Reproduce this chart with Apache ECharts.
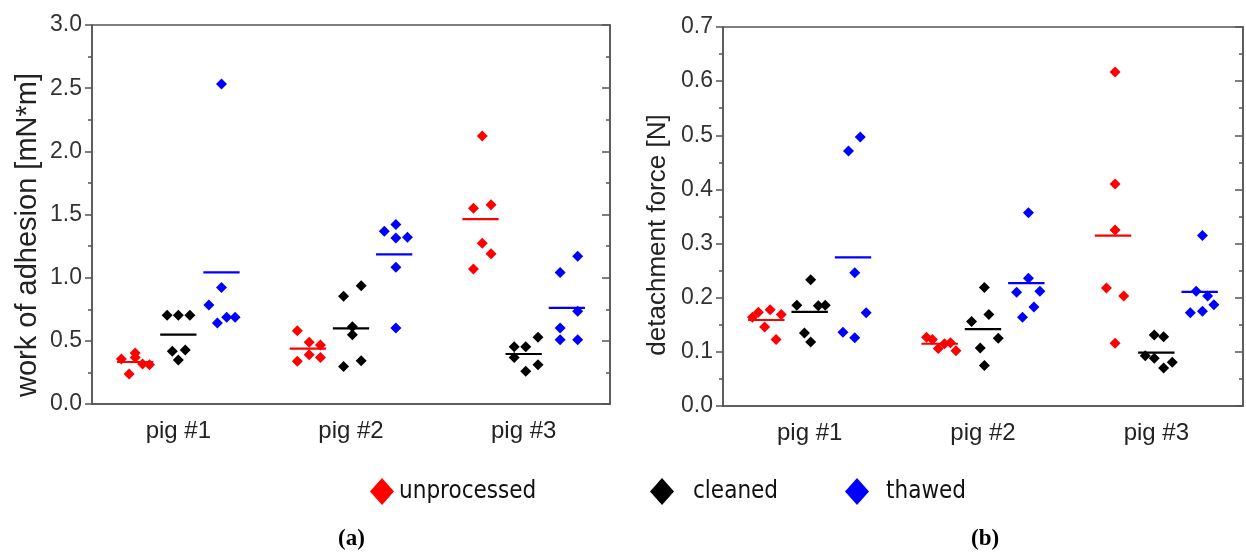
<!DOCTYPE html>
<html><head><meta charset="utf-8">
<script src="https://cdn.jsdelivr.net/npm/echarts@6/dist/echarts.min.js"></script>
<style>html,body{margin:0;padding:0;background:#fff}#c{width:1246px;height:553px}</style>
</head><body><div id="c"></div>
<script>
// ---------------- data ----------------
const categories = ['pig #1', 'pig #2', 'pig #3'];
const seriesNames = ['unprocessed', 'cleaned', 'thawed'];
const yTicksA = [0, 0.5, 1.0, 1.5, 2.0, 2.5, 3.0];
const yTicksB = [0, 0.1, 0.2, 0.3, 0.4, 0.5, 0.6, 0.7];
const yTitles = ['work of adhesion [mN*m]', 'detachment force [N]'];
const panelLabels = ['(a)', '(b)'];

// (a) work of adhesion [mN*m] – six samples per pig
const adhUnprocessed = [[0.356, 0.404, 0.369, 0.317, 0.311, 0.237], [0.580, 0.488, 0.467, 0.390, 0.369, 0.338], [2.121, 1.549, 1.578, 1.272, 1.190, 1.069]];
const adhCleaned     = [[0.702, 0.702, 0.702, 0.417, 0.427, 0.348], [0.852, 0.937, 0.612, 0.549, 0.296, 0.343], [0.454, 0.454, 0.528, 0.369, 0.311, 0.259]];
const adhThawed      = [[2.533, 0.923, 0.784, 0.641, 0.686, 0.686], [1.367, 1.420, 1.314, 1.319, 1.082, 0.602], [1.169, 1.040, 0.734, 0.602, 0.509, 0.509]];
// horizontal scatter of each sample inside its column (category units)
const adhUnprocessedDx = [[-0.08, 0, 0, 0.043, 0.083, -0.035], [-0.061, 0.008, 0.073, 0.008, 0.073, -0.061], [0.01, -0.041, 0.061, 0.01, 0.061, -0.041]];
const adhCleanedDx     = [[-0.065, 0, 0.067, -0.035, 0.04, 0], [-0.043, 0.059, 0.008, 0.008, -0.043, 0.059], [-0.055, 0.012, 0.083, -0.055, 0.083, 0.012]];
const adhThawedDx      = [[0, 0, -0.073, -0.024, 0.03, 0.079], [-0.057, 0.01, 0.01, 0.077, 0.01, 0.01], [0.063, -0.039, 0.063, -0.039, -0.039, 0.063]];

// (b) detachment force [N]
const forUnprocessed = [[0.164, 0.173, 0.178, 0.169, 0.146, 0.123], [0.127, 0.123, 0.106, 0.115, 0.117, 0.102], [0.617, 0.410, 0.325, 0.218, 0.203, 0.116]];
const forCleaned     = [[0.186, 0.233, 0.185, 0.186, 0.135, 0.118], [0.219, 0.169, 0.156, 0.125, 0.107, 0.075], [0.131, 0.128, 0.093, 0.088, 0.081, 0.070]];
const forThawed      = [[0.497, 0.471, 0.246, 0.172, 0.136, 0.126], [0.357, 0.236, 0.210, 0.212, 0.183, 0.164], [0.315, 0.212, 0.203, 0.187, 0.172, 0.175]];
const forUnprocessedDx = [[-0.08, -0.046, 0.022, 0.086, -0.01, 0.056], [-0.076, -0.042, -0.008, 0.028, 0.062, 0.094], [0.012, 0.012, 0.012, -0.038, 0.062, 0.012]];
const forCleanedDx     = [[-0.074, 0.006, 0.05, 0.09, -0.03, 0.006], [0.008, 0.034, -0.066, 0.088, -0.016, 0.008], [-0.012, 0.042, -0.064, -0.012, 0.092, 0.042]];
const forThawedDx      = [[0.042, -0.026, 0.01, 0.076, -0.058, 0.01], [0.012, 0.012, -0.056, 0.078, 0.044, -0.022], [0.016, -0.02, 0.046, 0.082, -0.054, 0.016]];

// ---------------- chart ----------------
const colors = ['#ff0000', '#000000', '#0000ff'];
const axisColor = '#555555';
const tickFont = 'Liberation Sans, Arial, sans-serif';

const panels = [
  { vals: [adhUnprocessed, adhCleaned, adhThawed], dx: [adhUnprocessedDx, adhCleanedDx, adhThawedDx], ticks: yTicksA },
  { vals: [forUnprocessed, forCleaned, forThawed], dx: [forUnprocessedDx, forCleanedDx, forThawedDx], ticks: yTicksB }
];

const grids = [
  { left: 92, right: 636, top: 25, bottom: 149 },
  { left: 723, right: 2, top: 27, bottom: 147 }
].map(g => Object.assign(g, { show: true, borderColor: axisColor, borderWidth: 1.5, backgroundColor: 'transparent', containLabel: false }));

const xAxes = [], yAxes = [], series = [];
panels.forEach((p, gi) => {
  xAxes.push({
    type: 'value', gridIndex: gi, min: 0, max: categories.length, interval: 0.5,
    axisLine: { show: true, lineStyle: { color: axisColor, width: 1.5 } },
    axisTick: { show: false }, splitLine: { show: false },
    axisLabel: {
      margin: 15, color: '#222', fontSize: 24, fontFamily: tickFont,
      formatter: v => { const i = v - 0.5; return Number.isInteger(i) && categories[i] ? categories[i] : ''; }
    }
  });
  const step = p.ticks[1] - p.ticks[0];
  const common = { type: 'value', gridIndex: gi, min: p.ticks[0], max: p.ticks[p.ticks.length - 1], interval: step, splitLine: { show: false } };
  yAxes.push(Object.assign({}, common, {
    position: 'left',
    axisLine: { show: true, lineStyle: { color: axisColor, width: 1.5 } },
    axisTick: { show: true, length: 7, lineStyle: { color: axisColor, width: 1.5 } },
    minorTick: { show: true, splitNumber: 2, length: 4, lineStyle: { color: axisColor, width: 1.5 } },
    axisLabel: { margin: 10, color: '#333', fontSize: 23, fontFamily: tickFont, formatter: v => v.toFixed(1) }
  }));
  yAxes.push(Object.assign({}, common, {
    position: 'right',
    axisLine: { show: true, lineStyle: { color: axisColor, width: 1.5 } },
    axisTick: { show: true, inside: true, length: 8, lineStyle: { color: axisColor, width: 1.5 } },
    minorTick: { show: true, splitNumber: 2, length: 4, lineStyle: { color: axisColor, width: 1.5 } },
    axisLabel: { show: false }
  }));
  seriesNames.forEach((sn, si) => {
    const pts = [], means = [];
    p.vals[si].forEach((arr, ci) => {
      const xc = ci + 0.5 + (si - 1) * 0.25;
      arr.forEach((v, k) => pts.push([xc + p.dx[si][ci][k], v]));
      means.push([xc, arr.reduce((a, b) => a + b, 0) / arr.length]);
    });
    series.push({
      type: 'scatter', name: sn, xAxisIndex: gi, yAxisIndex: gi * 2,
      symbol: 'diamond', symbolSize: 11, itemStyle: { color: colors[si], opacity: 1 },
      data: pts, silent: true, z: 3
    });
    series.push({
      type: 'custom', name: sn, xAxisIndex: gi, yAxisIndex: gi * 2, silent: true, z: 4,
      itemStyle: { color: colors[si] },
      data: means,
      renderItem: (params, api) => {
        const a = api.coord([api.value(0) - 0.105, api.value(1)]);
        const b = api.coord([api.value(0) + 0.105, api.value(1)]);
        return { type: 'line', shape: { x1: a[0], y1: a[1], x2: b[0], y2: b[1] }, style: { stroke: colors[si], lineWidth: 2.2 } };
      }
    });
  });
});

const legendFont = "'Liberation Sans Narrow', 'DejaVu Sans Condensed', 'Liberation Sans', sans-serif";
const legendPos = [{ left: 365, pad: 0 }, { left: 645, pad: 14 }, { left: 840, pad: 12 }];
const legends = seriesNames.map((sn, i) => ({
  data: [{ name: sn, icon: 'diamond', itemStyle: { color: colors[i] } }],
  left: legendPos[i].left, top: 473, itemWidth: 24, itemHeight: 27, selectedMode: false,
  textStyle: { fontSize: 24, color: '#111', fontFamily: legendFont, padding: [0, 0, 0, legendPos[i].pad] }
}));

const titleStyle = (txt, size) => ({ text: txt, fontSize: size, fontFamily: tickFont, fill: '#222', textAlign: 'center', textVerticalAlign: 'middle' });

const chart = echarts.init(document.getElementById('c'), null, { renderer: 'canvas' });
chart.setOption({
  animation: false,
  backgroundColor: '#fff',
  grid: grids,
  xAxis: xAxes,
  yAxis: yAxes,
  legend: legends,
  series: series,
  graphic: [
    { type: 'text', x: 28, y: 235, rotation: Math.PI / 2, style: titleStyle(yTitles[0], 29) },
    { type: 'text', x: 658, y: 235, rotation: Math.PI / 2, style: titleStyle(yTitles[1], 26) },
    { type: 'text', left: 338, top: 528, style: { text: panelLabels[0], fontSize: 23, fontWeight: 'bold', fontFamily: 'Liberation Serif, serif', fill: '#000' } },
    { type: 'text', left: 971, top: 528, style: { text: panelLabels[1], fontSize: 23, fontWeight: 'bold', fontFamily: 'Liberation Serif, serif', fill: '#000' } }
  ]
});
</script></body></html>
